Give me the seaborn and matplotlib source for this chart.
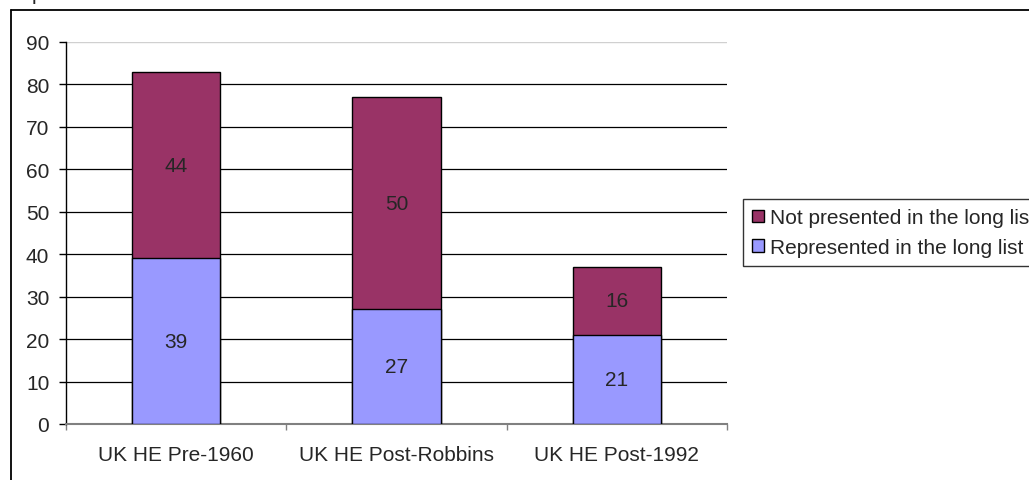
import matplotlib
matplotlib.use("Agg")
import matplotlib.pyplot as plt
from matplotlib.lines import Line2D
from matplotlib.patches import Patch
import pandas as pd
import seaborn as sns

categories = ["UK HE Pre-1960", "UK HE Post-Robbins", "UK HE Post-1992"]
represented = [39, 27, 21]
not_presented = [44, 50, 16]
y_ticks = [0, 10, 20, 30, 40, 50, 60, 70, 80, 90]

col_rep = "#9999FF"
col_not = "#993366"
fs = 15

df = pd.DataFrame({
    "category": categories,
    "represented": represented,
    "not_presented": not_presented,
})
df["total"] = df["represented"] + df["not_presented"]

sns.set_style("white")
plt.rcParams["font.family"] = ["Liberation Sans", "DejaVu Sans"]

fig = plt.figure(figsize=(10.29, 4.81), dpi=100)
ax = fig.add_axes([66 / 1029, 1 - 425 / 481, (727 - 66) / 1029, (425 - 43) / 481])

sns.barplot(data=df, x="category", y="total", color=col_not, width=0.4,
            edgecolor="black", linewidth=1, saturation=1, ax=ax, zorder=3)
sns.barplot(data=df, x="category", y="represented", color=col_rep, width=0.4,
            edgecolor="black", linewidth=1, saturation=1, ax=ax, zorder=3)

# segment labels
for i, row in df.iterrows():
    ax.text(i, row["represented"] / 2, str(row["represented"]), ha="center",
            va="center", fontsize=fs, zorder=4)
    ax.text(i, row["represented"] + row["not_presented"] / 2,
            str(row["not_presented"]), ha="center", va="center",
            fontsize=fs, zorder=4)

ax.set_xlim(-0.5, 2.5)
ax.set_ylim(0, 90)
ax.set_yticks(y_ticks)
ax.set_xlabel("")
ax.set_ylabel("")

for y in y_ticks[1:-1]:
    ax.axhline(y, color="black", linewidth=0.9, zorder=1)
ax.axhline(90, color="#d0d0d0", linewidth=1, zorder=1)

for s in ["top", "right"]:
    ax.spines[s].set_visible(False)
ax.spines["left"].set_color("black")
ax.spines["left"].set_linewidth(1)
ax.spines["bottom"].set_color("#808080")
ax.spines["bottom"].set_linewidth(1.5)

ax.tick_params(axis="y", direction="out", length=5, width=1, color="black",
               labelsize=fs, pad=7, left=True)
ax.set_xticks([-0.5, 0.5, 1.5, 2.5], minor=True)
ax.tick_params(axis="x", which="minor", direction="out", length=4, width=1,
               color="#808080", bottom=True)
ax.tick_params(axis="x", which="major", length=0, labelsize=fs, pad=15)

handles = [Patch(facecolor=col_not, edgecolor="black", label="Not presented in the long list"),
           Patch(facecolor=col_rep, edgecolor="black", label="Represented in the long list")]
leg = fig.legend(handles=handles, loc="upper left",
                 bbox_to_anchor=(743 / 1029, 1 - 200 / 481), fontsize=fs,
                 frameon=True, fancybox=False, handlelength=0.55,
                 handleheight=0.55, handletextpad=0.3, borderpad=0.45,
                 labelspacing=0.5, borderaxespad=0)
leg.get_frame().set_edgecolor("black")
leg.get_frame().set_linewidth(1)

# outer chart frame (partly cut off)
fig.add_artist(Line2D([10.5 / 1029, 1.0], [1 - 10.5 / 481, 1 - 10.5 / 481],
                      color="black", linewidth=1.3, transform=fig.transFigure))
fig.add_artist(Line2D([10.5 / 1029, 10.5 / 1029], [0.0, 1 - 10.5 / 481],
                      color="black", linewidth=1.3, transform=fig.transFigure))
fig.text(32 / 1029, 1.0, "p", fontsize=fs, va="baseline", ha="left")

fig.savefig("out.png", dpi=100)
